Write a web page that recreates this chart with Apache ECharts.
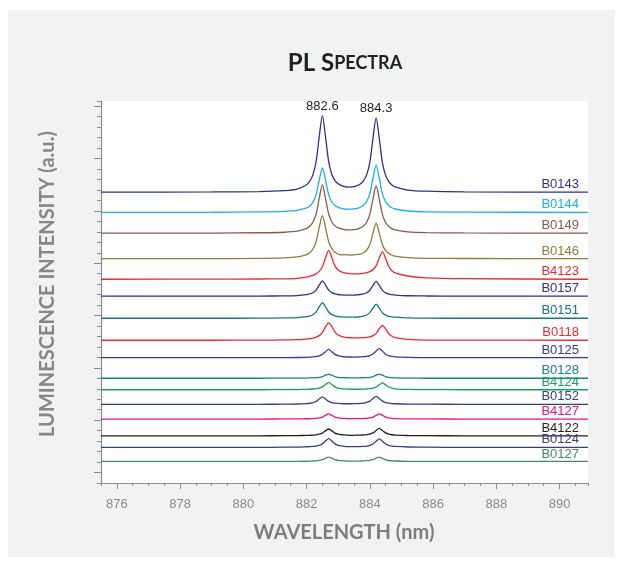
<!DOCTYPE html>
<html><head><meta charset="utf-8">
<script src="https://cdn.jsdelivr.net/npm/echarts@6/dist/echarts.min.js"></script>
<style>html,body{margin:0;padding:0;background:#fff}#c{width:623px;height:565px}</style>
</head><body><div id="c"></div>
<script>
// ---- data ----
const wavelength = [875.5, 879, 880.5, 881.3, 881.7, 882.0, 882.1, 882.2, 882.3, 882.4, 882.5, 882.6, 882.7, 882.8, 882.9, 883.0, 883.1, 883.2, 883.3, 883.4, 883.5, 883.6, 883.7, 883.8, 883.9, 884.0, 884.1, 884.2, 884.3, 884.4, 884.5, 884.6, 884.7, 884.8, 885.2, 885.8, 887, 890.9];

const sampleNames = ['B0143','B0144','B0149','B0146','B4123','B0157','B0151','B0118','B0125','B0128','B4124','B0152','B4127','B4122','B0124','B0127'];
const sampleColors = ['#2e3192','#1cb0e8','#8c5a4b','#8f7d3c','#ee2a2e','#2e3192','#14787e','#ee2a2e','#353a96','#17808a','#14a35a','#363d7c','#ec118f','#231f20','#363d86','#4a8a6a'];

const B0143 = [27.80, 27.81, 27.85, 27.94, 28.09, 28.50, 28.83, 29.44, 30.67, 33.06, 35.10, 33.07, 30.70, 29.48, 28.90, 28.59, 28.42, 28.33, 28.28, 28.28, 28.32, 28.41, 28.57, 28.87, 29.44, 30.61, 32.92, 34.88, 32.90, 30.58, 29.39, 28.80, 28.48, 28.29, 27.99, 27.88, 27.82, 27.79];
const B0144 = [25.86, 25.87, 25.90, 25.95, 26.04, 26.28, 26.47, 26.82, 27.53, 28.92, 30.11, 28.93, 27.55, 26.85, 26.51, 26.33, 26.23, 26.18, 26.16, 26.16, 26.19, 26.24, 26.35, 26.54, 26.90, 27.65, 29.12, 30.37, 29.11, 27.63, 26.88, 26.50, 26.30, 26.18, 25.99, 25.91, 25.88, 25.86];
const B0149 = [23.87, 23.88, 23.91, 23.96, 24.06, 24.32, 24.53, 24.91, 25.68, 27.19, 28.48, 27.20, 25.70, 24.94, 24.57, 24.37, 24.27, 24.21, 24.18, 24.18, 24.21, 24.26, 24.37, 24.56, 24.92, 25.67, 27.14, 28.39, 27.13, 25.65, 24.89, 24.52, 24.31, 24.19, 24.00, 23.93, 23.89, 23.87];
const B0146 = [21.43, 21.44, 21.46, 21.51, 21.60, 21.83, 22.01, 22.36, 23.05, 24.40, 25.55, 24.40, 23.06, 22.38, 22.04, 21.87, 21.80, 21.82, 21.79, 21.78, 21.80, 21.84, 21.88, 21.98, 22.24, 22.78, 23.88, 24.82, 23.87, 22.77, 22.20, 21.92, 21.76, 21.67, 21.53, 21.47, 21.45, 21.43];
const B4123 = [19.47, 19.48, 19.49, 19.51, 19.55, 19.68, 19.74, 19.84, 19.98, 20.22, 20.66, 21.50, 22.22, 21.52, 20.72, 20.35, 20.17, 20.07, 20.02, 19.99, 19.98, 19.98, 20.00, 20.04, 20.10, 20.20, 20.38, 20.75, 21.50, 22.09, 21.45, 20.68, 20.28, 20.08, 19.78, 19.60, 19.52, 19.47];
const B0157 = [17.85, 17.85, 17.86, 17.88, 17.91, 17.99, 18.06, 18.18, 18.43, 18.90, 19.31, 18.91, 18.43, 18.19, 18.07, 18.01, 17.98, 17.96, 17.95, 17.95, 17.96, 17.97, 18.01, 18.07, 18.18, 18.42, 18.88, 19.27, 18.88, 18.41, 18.17, 18.05, 17.99, 17.95, 17.89, 17.87, 17.86, 17.85];
const B0151 = [15.74, 15.74, 15.75, 15.77, 15.80, 15.89, 15.95, 16.08, 16.33, 16.82, 17.24, 16.82, 16.34, 16.09, 15.97, 15.90, 15.87, 15.85, 15.84, 15.84, 15.84, 15.86, 15.89, 15.95, 16.05, 16.28, 16.71, 17.08, 16.71, 16.27, 16.04, 15.93, 15.87, 15.84, 15.78, 15.75, 15.74, 15.74];
const B0118 = [13.64, 13.64, 13.65, 13.67, 13.69, 13.76, 13.80, 13.85, 13.94, 14.08, 14.37, 14.92, 15.30, 14.94, 14.41, 14.14, 14.01, 13.94, 13.90, 13.88, 13.87, 13.86, 13.87, 13.89, 13.92, 13.97, 14.08, 14.30, 14.74, 15.05, 14.72, 14.26, 14.02, 13.89, 13.73, 13.66, 13.65, 13.64];
const B0125 = [11.97, 11.97, 11.97, 11.98, 11.99, 12.01, 12.03, 12.05, 12.09, 12.15, 12.29, 12.55, 12.77, 12.55, 12.29, 12.16, 12.09, 12.06, 12.04, 12.04, 12.03, 12.04, 12.05, 12.07, 12.10, 12.17, 12.32, 12.60, 12.84, 12.60, 12.31, 12.17, 12.09, 12.05, 12.00, 11.98, 11.97, 11.97];
const B0128 = [10.01, 10.01, 10.01, 10.02, 10.02, 10.03, 10.04, 10.05, 10.07, 10.10, 10.17, 10.30, 10.41, 10.30, 10.17, 10.10, 10.07, 10.06, 10.05, 10.04, 10.04, 10.04, 10.05, 10.06, 10.07, 10.10, 10.17, 10.30, 10.41, 10.30, 10.17, 10.10, 10.07, 10.05, 10.02, 10.01, 10.01, 10.01];
const B4124 = [8.91, 8.91, 8.91, 8.92, 8.93, 8.95, 8.96, 8.98, 9.01, 9.07, 9.19, 9.42, 9.62, 9.42, 9.19, 9.07, 9.02, 8.99, 8.97, 8.96, 8.96, 8.96, 8.96, 8.97, 8.98, 9.01, 9.06, 9.17, 9.38, 9.56, 9.38, 9.17, 9.06, 9.00, 8.94, 8.92, 8.91, 8.91];
const B0152 = [7.52, 7.52, 7.52, 7.53, 7.55, 7.59, 7.62, 7.68, 7.79, 8.02, 8.22, 8.02, 7.80, 7.68, 7.63, 7.60, 7.58, 7.57, 7.57, 7.57, 7.58, 7.58, 7.60, 7.63, 7.70, 7.82, 8.07, 8.28, 8.06, 7.82, 7.69, 7.63, 7.59, 7.57, 7.54, 7.53, 7.52, 7.52];
const B4127 = [6.11, 6.11, 6.11, 6.12, 6.12, 6.14, 6.14, 6.16, 6.18, 6.22, 6.30, 6.46, 6.60, 6.46, 6.30, 6.22, 6.18, 6.17, 6.15, 6.15, 6.15, 6.15, 6.15, 6.17, 6.18, 6.22, 6.30, 6.46, 6.60, 6.46, 6.30, 6.22, 6.18, 6.16, 6.13, 6.12, 6.11, 6.11];
const B4122 = [4.51, 4.51, 4.51, 4.52, 4.53, 4.55, 4.56, 4.57, 4.60, 4.66, 4.77, 4.98, 5.16, 4.98, 4.77, 4.66, 4.61, 4.59, 4.57, 4.56, 4.56, 4.57, 4.57, 4.59, 4.62, 4.68, 4.79, 5.02, 5.22, 5.02, 4.79, 4.67, 4.61, 4.58, 4.54, 4.52, 4.51, 4.51];
const B0124 = [3.41, 3.41, 3.41, 3.42, 3.43, 3.46, 3.47, 3.49, 3.53, 3.60, 3.74, 4.01, 4.24, 4.01, 3.74, 3.60, 3.54, 3.50, 3.48, 3.48, 3.47, 3.48, 3.48, 3.50, 3.53, 3.60, 3.73, 3.99, 4.21, 3.99, 3.72, 3.59, 3.52, 3.49, 3.44, 3.42, 3.41, 3.41];
const B0127 = [2.06, 2.06, 2.06, 2.07, 2.07, 2.08, 2.09, 2.10, 2.12, 2.16, 2.23, 2.37, 2.48, 2.37, 2.23, 2.16, 2.13, 2.11, 2.10, 2.09, 2.09, 2.09, 2.10, 2.11, 2.13, 2.16, 2.23, 2.37, 2.48, 2.36, 2.22, 2.15, 2.12, 2.10, 2.07, 2.06, 2.06, 2.06];

const seriesValues = [B0143, B0144, B0149, B0146, B4123, B0157, B0151, B0118, B0125, B0128, B4124, B0152, B4127, B4122, B0124, B0127];

const xMajorTicks = [876, 878, 880, 882, 884, 886, 888, 890];
const yMajorTicks = [1, 6, 11, 16, 21, 26, 31, 36];
const peakLabels = ['882.6', '884.3'];

// ---- chart ----
const axisGray = '#8c8c8c';
const textFont = '"Liberation Sans", Arial, sans-serif';
const titleFont = 'Lato, "Open Sans", sans-serif';

// locate the two peaks of the top spectrum
function peakIndex(vals, lo, hi) {
  let best = -1;
  for (let i = 0; i < vals.length; i++) {
    if (wavelength[i] >= lo && wavelength[i] <= hi && (best < 0 || vals[i] > vals[best])) best = i;
  }
  return best;
}
const pk1 = peakIndex(B0143, 881, 883.4);
const pk2 = peakIndex(B0143, 883.4, 886);

const series = seriesValues.map((vals, k) => {
  const s = {
    name: sampleNames[k],
    type: 'line',
    xAxisIndex: 0,
    yAxisIndex: 0,
    data: wavelength.map((w, i) => [w, vals[i]]),
    showSymbol: false,
    symbol: 'none',
    smooth: 0.3,
    lineStyle: { color: sampleColors[k], width: 1.3 },
    itemStyle: { color: sampleColors[k] },
    emphasis: { disabled: true },
    endLabel: {
      show: true,
      formatter: sampleNames[k],
      color: sampleColors[k],
      fontSize: 13,
      fontFamily: textFont,
      align: 'right',
      verticalAlign: 'bottom',
      distance: -9,
      padding: [0, 0, 1, 0]
    },
    z: 3
  };
  if (k === 0) {
    s.markPoint = {
      symbol: 'circle',
      symbolSize: 0.01,
      silent: true,
      label: { show: true, position: 'top', distance: 3, formatter: '{b}', color: '#231f20', fontSize: 13, fontFamily: textFont },
      data: [
        { name: peakLabels[0], coord: [wavelength[pk1], B0143[pk1]] },
        { name: peakLabels[1], coord: [wavelength[pk2], B0143[pk2]] }
      ]
    };
  }
  return s;
});

const chart = echarts.init(document.getElementById('c'), null, { renderer: 'canvas' });
chart.setOption({
  animation: false,
  backgroundColor: '#ffffff',
  graphic: [
    { type: 'rect', z: -100, silent: true, shape: { x: 8, y: 10, width: 607, height: 547 }, style: { fill: '#f1f2f4' } },
    { type: 'text', x: 345, y: 75, silent: true,
      style: { text: '{a|PL S}{b|PECTRA}', align: 'center', verticalAlign: 'bottom',
        rich: { a: { fontSize: 24, fontWeight: 'bold', fontFamily: titleFont, fill: '#231f20' },
                b: { fontSize: 18, fontWeight: 'bold', fontFamily: titleFont, fill: '#231f20' } } } },
    { type: 'text', x: 48, y: 284, rotation: Math.PI / 2, silent: true,
      style: { text: 'LUMINESCENCE INTENSITY (a.u.)', align: 'center', verticalAlign: 'middle',
        font: 'bold 20px ' + titleFont, fill: '#868686' } },
    { type: 'text', x: 344, y: 533, silent: true,
      style: { text: 'WAVELENGTH (nm)', align: 'center', verticalAlign: 'middle',
        font: 'bold 20px ' + titleFont, fill: '#7d7d7d' } }
  ],
  grid: [
    { left: 101, top: 101, width: 487, height: 382, show: true, backgroundColor: '#ffffff', borderWidth: 0 },
    { left: 101, top: 101, width: 487, height: 382, show: false }
  ],
  xAxis: [
    { gridIndex: 0, type: 'value', min: 875.5, max: 890.9,
      axisLine: { lineStyle: { color: axisGray, width: 1.2 } },
      axisTick: { customValues: xMajorTicks, length: 6, lineStyle: { color: axisGray, width: 1 } },
      axisLabel: { customValues: xMajorTicks, color: '#8a8a8a', fontSize: 13, fontFamily: textFont, margin: 15 },
      splitLine: { show: false } },
    { gridIndex: 1, type: 'value', min: 875.5, max: 890.9, interval: 0.5,
      axisLine: { show: false },
      axisTick: { length: 3, lineStyle: { color: axisGray, width: 1 } },
      axisLabel: { show: false }, splitLine: { show: false } }
  ],
  yAxis: [
    { gridIndex: 0, type: 'value', min: 0, max: 36.5,
      axisLine: { show: true, lineStyle: { color: axisGray, width: 1.2 } },
      axisTick: { show: true, customValues: yMajorTicks, length: 7, lineStyle: { color: axisGray, width: 1 } },
      axisLabel: { show: false }, splitLine: { show: false } },
    { gridIndex: 1, type: 'value', min: 0, max: 36.5, interval: 1,
      axisLine: { show: false },
      axisTick: { show: true, length: 4, lineStyle: { color: axisGray, width: 1 } },
      axisLabel: { show: false }, splitLine: { show: false } }
  ],
  series: series
});
</script>
</body></html>
